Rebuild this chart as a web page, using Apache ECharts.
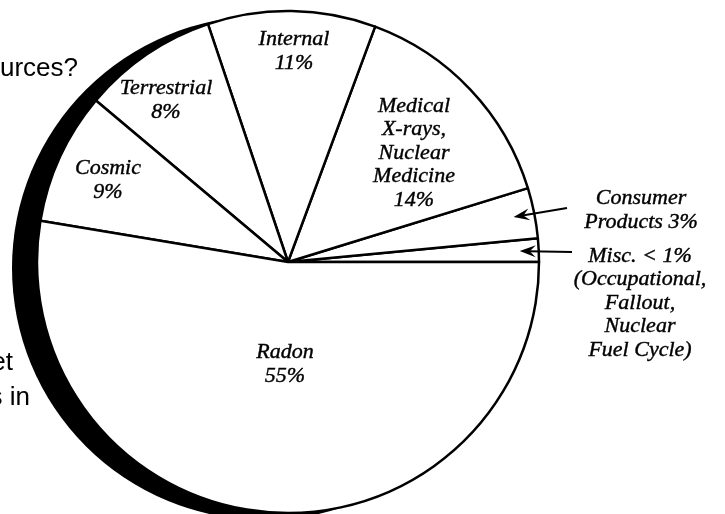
<!DOCTYPE html>
<html>
<head>
<meta charset="utf-8">
<script src="https://cdn.jsdelivr.net/npm/echarts@6/dist/echarts.min.js"></script>
<style>
  html, body { margin: 0; padding: 0; background: #fff; }
  #chart { width: 725px; height: 514px; }
</style>
</head>
<body>
<div id="chart"></div>
<script>
// slices, counter-clockwise from 3 o'clock
const categories = ["Misc.", "Consumer Products", "Medical X-rays, Nuclear Medicine", "Internal", "Terrestrial", "Cosmic", "Radon"];
// share of the circle each slice takes in the picture
const shares = [1.5, 3.25, 14.6, 10.8, 8.7, 8.5, 52.6];
// printed labels
const labelTexts = [
  "Misc. < 1%\n(Occupational,\nFallout,\nNuclear\nFuel Cycle)",
  "Consumer\nProducts 3%",
  "Medical\nX-rays,\nNuclear\nMedicine\n14%",
  "Internal\n11%",
  "Terrestrial\n8%",
  "Cosmic\n9%",
  "Radon\n55%"
];
// bits of slide text cut off at the left edge
const fragments = ["urces?", "et", "s in"];

// layout
const CENTER = [288, 262];
const RADIUS = 251;
const labelPos = [[640, 303], [641, 210], [414, 153], [294, 51], [166, 100], [108, 180], [285, 364]];
const arrowTails = { 0: [572, 252], 1: [567, 208] };
const fragPos = [[0, 69, "left"], [13, 363, "right"], [30, 398, "right"]];

const chart = echarts.init(document.getElementById("chart"));

// arrow tips sit inside the slice, along its middle angle
const total = shares.reduce((a, b) => a + b, 0);
function midAngle(i) {
  let acc = 0;
  for (let k = 0; k < i; k++) acc += shares[k];
  return ((acc + shares[i] / 2) / total) * 2 * Math.PI;
}
function arrow(i, r) {
  const a = midAngle(i);
  const tip = [CENTER[0] + r * Math.cos(a), CENTER[1] - r * Math.sin(a)];
  const tail = arrowTails[i];
  const dx = tail[0] - tip[0], dy = tail[1] - tip[1];
  const len = Math.sqrt(dx * dx + dy * dy);
  const ux = dx / len, uy = dy / len;
  const px = -uy, py = ux;
  const head = [
    tip,
    [tip[0] + ux * 16 + px * 6, tip[1] + uy * 16 + py * 6],
    [tip[0] + ux * 10, tip[1] + uy * 10],
    [tip[0] + ux * 16 - px * 6, tip[1] + uy * 16 - py * 6]
  ];
  return [
    { type: "polyline", silent: true, z: 100, shape: { points: [[tip[0] + ux * 9, tip[1] + uy * 9], tail] },
      style: { stroke: "#000", lineWidth: 2, fill: null } },
    { type: "polygon", silent: true, z: 100, shape: { points: head }, style: { fill: "#000" } }
  ];
}

const graphics = [];
fragments.forEach((t, i) => {
  graphics.push({
    type: "text", silent: true, z: 100,
    style: {
      text: t, x: fragPos[i][0], y: fragPos[i][1],
      font: '26px "Liberation Sans"', fill: "#000",
      align: fragPos[i][2], verticalAlign: "middle",
      textAlign: fragPos[i][2], textVerticalAlign: "middle"
    }
  });
});
graphics.push(...arrow(0, 232), ...arrow(1, 230));

chart.setOption({
  animation: false,
  backgroundColor: "#fff",
  graphic: graphics,
  series: [
    {
      // dark crescent behind the pie
      type: "pie",
      silent: true,
      center: [CENTER[0] - 24, CENTER[1] + 6],
      radius: RADIUS + 1,
      data: [{ value: 1, name: "shadow" }],
      itemStyle: { color: "#000" },
      label: { show: false },
      labelLine: { show: false },
      emphasis: { disabled: true }
    },
    {
      type: "pie",
      silent: true,
      center: CENTER,
      radius: RADIUS,
      startAngle: 0,
      clockwise: false,
      data: categories.map((c, i) => ({ name: c, value: shares[i] })),
      itemStyle: { color: "#fff", borderColor: "#000", borderWidth: 2.5 },
      label: {
        show: true,
        position: "inside",
        formatter: (p) => labelTexts[p.dataIndex],
        fontFamily: "Liberation Serif",
        fontStyle: "italic",
        fontSize: 22,
        lineHeight: 23.5,
        color: "#000",
        textBorderColor: "#000",
        textBorderWidth: 0.4,
        align: "center"
      },
      labelLine: { show: false },
      labelLayout: (p) => ({
        x: labelPos[p.dataIndex][0],
        y: labelPos[p.dataIndex][1],
        align: "center",
        verticalAlign: "middle"
      }),
      emphasis: { disabled: true }
    }
  ]
});
</script>
</body>
</html>
